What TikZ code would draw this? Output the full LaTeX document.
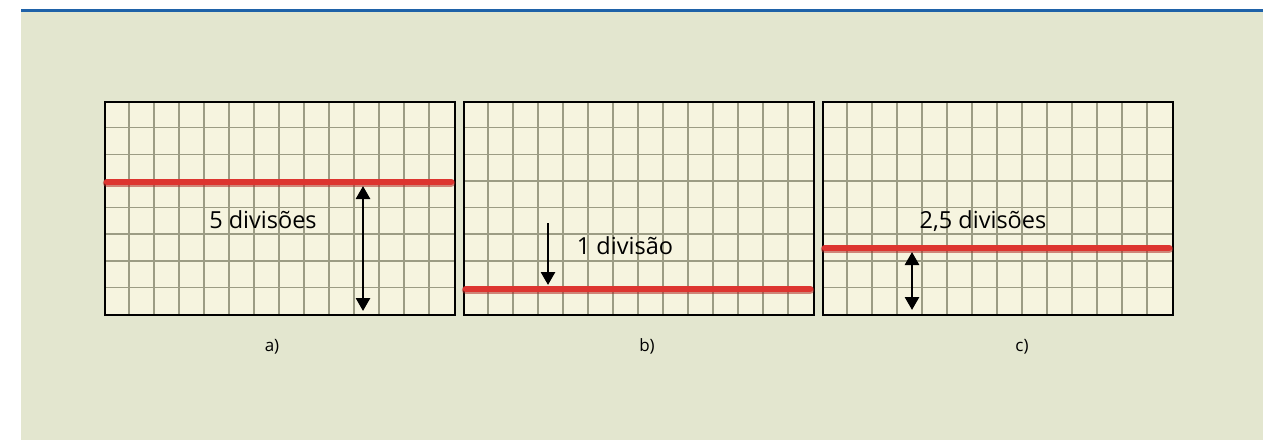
\documentclass[tikz,border=0pt]{standalone}
\usepackage{fontspec}
\setmainfont{Open Sans}
\usetikzlibrary{arrows.meta}
\definecolor{bgc}{HTML}{E3E6CF}
\definecolor{panelc}{HTML}{F6F4DF}
\definecolor{gridc}{HTML}{9C9C84}
\definecolor{bluec}{HTML}{1F62A8}
\definecolor{redc}{HTML}{DD3530}
\definecolor{redd}{HTML}{B02A24}
\begin{document}
\begin{tikzpicture}[x=1pt,y=-1pt,
  gridline/.style={gridc, line width=1.5pt},
  frame/.style={draw=black, line width=1.8pt, inner sep=0pt, anchor=north west, minimum width=350pt, minimum height=213pt},
  trace/.style={redc, line width=6.5pt, line cap=round},
  traceshadow/.style={redd, line width=8.5pt, line cap=round, opacity=0.55},
  dimone/.style={line width=2.7pt, -{Triangle[width=14pt,length=13pt]}},
  dimboth/.style={line width=2.7pt, {Triangle[width=14pt,length=13pt]}-{Triangle[width=14pt,length=13pt]}},
  lbl/.style={font=\fontsize{23.5}{28}\selectfont, inner sep=0pt, anchor=base},
  sublbl/.style={font=\fontsize{17}{20}\selectfont, inner sep=0pt, anchor=base}]
\useasboundingbox (0,0) rectangle (1263,440);
\fill[white] (0,0) rectangle (1263,440);
\fill[bgc] (21,12) rectangle (1263,440);
\draw[bluec, line width=3pt] (21,10.5) -- (1263,10.5);
% panels with grids
\foreach \x/\n in {104/a,463/b,822/c}{
  \fill[panelc] (\x,101) rectangle ++(350,213);
  \foreach \i in {1,...,13} \draw[gridline] (\x+\i*25,101) -- ++(0,213);
  \foreach \j in {1,...,7} \draw[gridline] (\x,101+\j*26.625) -- ++(350,0);
  \node[frame] (p\n) at (\x,101) {};
}
% traces
\coordinate (ra1) at (107,182); \coordinate (ra2) at (451,182);
\coordinate (rb1) at (466,289); \coordinate (rb2) at (810,289);
\coordinate (rc1) at (825,248); \coordinate (rc2) at (1169,248);
\foreach \r in {a,b,c}{
  \draw[traceshadow] ([yshift=-1pt]r\r1) -- ([yshift=-1pt]r\r2);
  \draw[trace] (r\r1) -- (r\r2);
}
% dimension arrows
\coordinate (aa1) at (363,186); \coordinate (aa2) at (363,311);
\draw[dimboth] (aa1) -- (aa2);
\coordinate (ab1) at (548,223); \coordinate (ab2) at (548,285);
\draw[dimone] (ab1) -- (ab2);
\coordinate (ac1) at (912,252); \coordinate (ac2) at (912,310);
\draw[dimboth] (ac1) -- (ac2);
% labels
\node[lbl] (ta) at (263,228) {5 divisões};
\node[lbl] (tb) at (625,254) {1 divisão};
\node[lbl] (tc) at (983,228) {2,5 divisões};
\node[sublbl] (la) at (272,351) {a)};
\node[sublbl] (lb) at (647,351) {b)};
\node[sublbl] (lc) at (1022,351) {c)};
\end{tikzpicture}
\end{document}
